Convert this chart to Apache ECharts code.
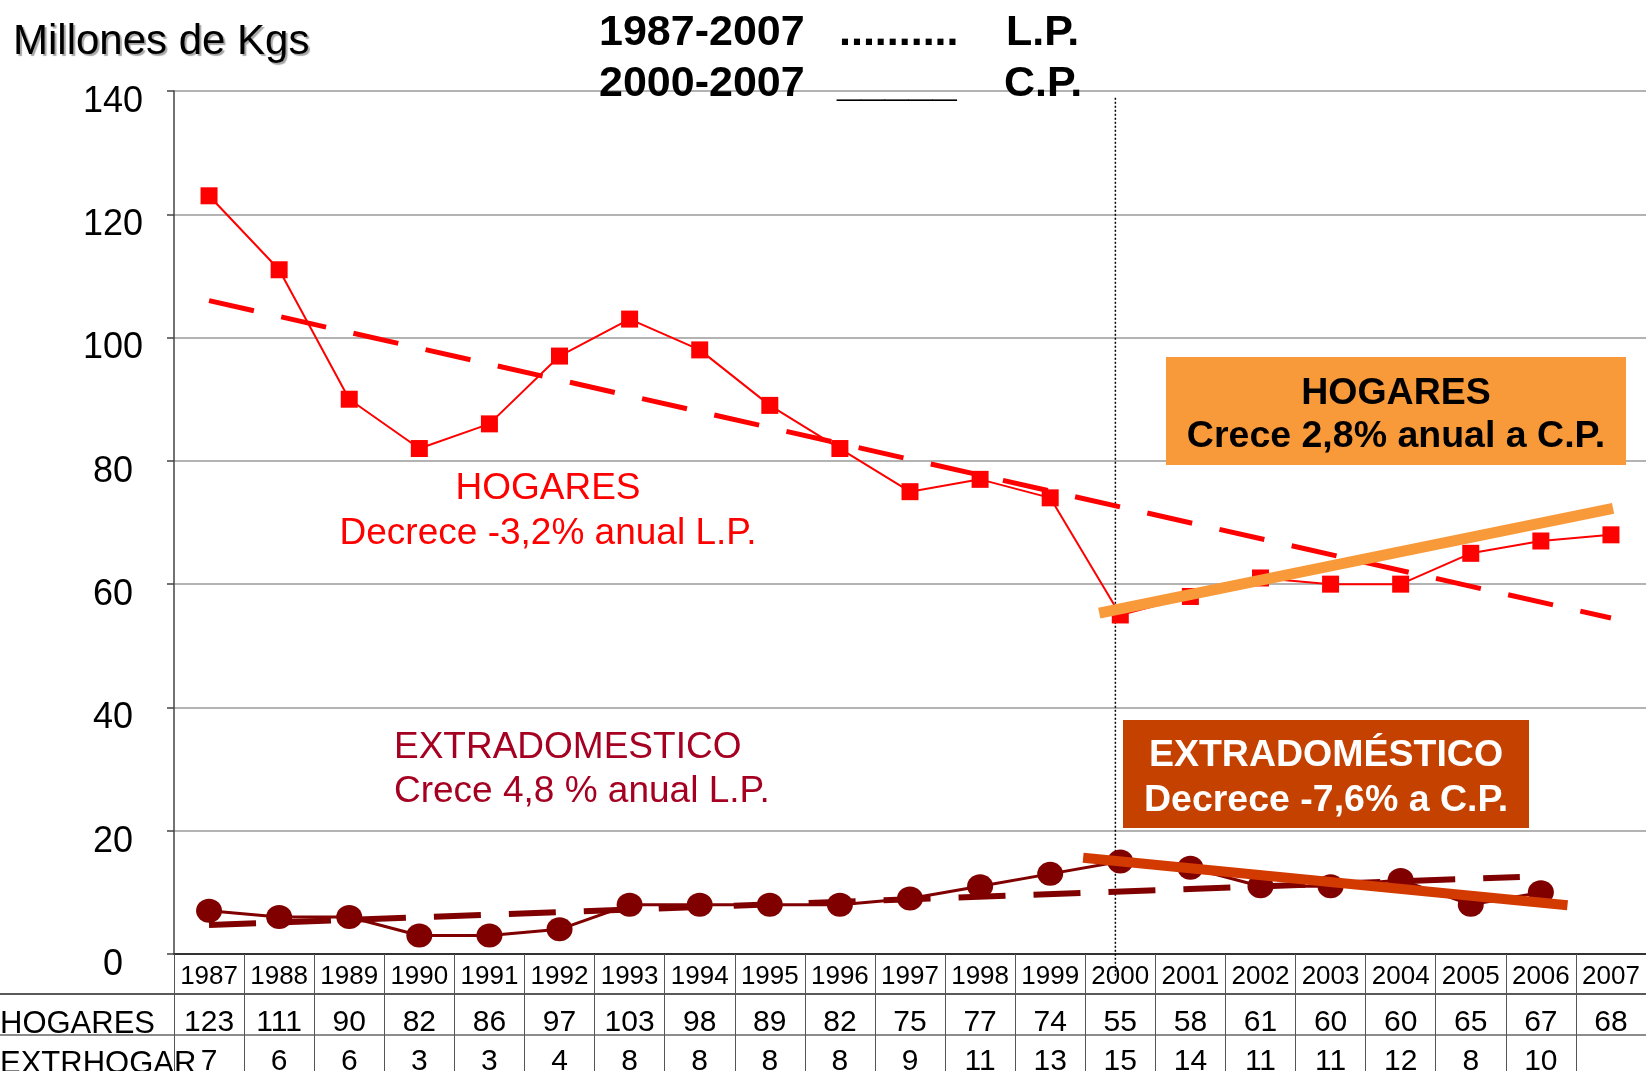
<!DOCTYPE html>
<html>
<head>
<meta charset="utf-8">
<script src="https://cdn.jsdelivr.net/npm/echarts@6/dist/echarts.min.js"></script>
<style>
  html, body { margin: 0; padding: 0; background: #fff; }
  #main { width: 1646px; height: 1071px; }
</style>
</head>
<body>
<div id="main"></div>
<script>
const years = ['1987', '1988', '1989', '1990', '1991', '1992', '1993', '1994', '1995', '1996', '1997',
  '1998', '1999', '2000', '2001', '2002', '2003', '2004', '2005', '2006', '2007']
const hogares = [123, 111, 90, 82, 86, 97, 103, 98, 89, 82, 75, 77, 74, 55, 58, 61, 60, 60, 65, 67, 68]
const extra = [7, 6, 6, 3, 3, 4, 8, 8, 8, 8, 9, 11, 13, 15, 14, 11, 11, 12, 8, 10, null]
const yTicks = [0, 20, 40, 60, 80, 100, 120, 140]

// trend lines, [position on the year axis (0 = 1987), value]
const hogaresLP = [[0, 106], [20, 54.5]]
const hogaresCP = [[12.7, 55.3], [20.03, 72.3]]
const extraLP = [[0, 4.7], [18.7, 12.5]]
const extraCP = [[12.47, 15.6], [19.38, 7.9]]
const mark2000 = [[12.93, 138.9], [12.93, -3.7]]

const FONT = '"Liberation Sans", Arial, sans-serif'

const myChart = echarts.init(document.getElementById('main'))

function txt(x, y, text, size, color, opts) {
  opts = opts || {}
  return {
    type: 'text',
    x: x,
    y: y,
    z: 100,
    style: Object.assign({
      text: text,
      font: (opts.bold ? 'bold ' : '') + size + 'px ' + FONT,
      fill: color,
      align: opts.align || 'left',
      verticalAlign: 'middle',
    }, opts.extra || {}),
  }
}

const option = {
  animation: false,
  backgroundColor: '#fff',
  grid: { left: 174, right: 0, top: 91, bottom: 117, containLabel: false, outerBoundsMode: 'none' },
  xAxis: [
    {
      type: 'category',
      data: years,
      position: 'bottom',
      boundaryGap: true,
      axisLine: { onZero: false, lineStyle: { color: '#333', width: 2 } },
      axisTick: { show: true, interval: 0, alignWithLabel: false, length: 117, lineStyle: { color: '#555', width: 1 } },
      axisLabel: { interval: 0, fontSize: 26, fontFamily: FONT, color: '#000', margin: 10 },
    },
    {
      type: 'category',
      data: hogares.map(String),
      position: 'bottom',
      offset: 46,
      axisLine: { show: false, onZero: false },
      axisTick: { show: false },
      axisLabel: { interval: 0, fontSize: 30, fontFamily: FONT, color: '#000', margin: 8 },
    },
    {
      type: 'category',
      data: extra.map((v) => (v == null ? '' : String(v))),
      position: 'bottom',
      offset: 85,
      axisLine: { show: false, onZero: false },
      axisTick: { show: false },
      axisLabel: { interval: 0, fontSize: 30, fontFamily: FONT, color: '#000', margin: 8 },
    },
    {
      type: 'value',
      position: 'top',
      min: -0.5,
      max: 20.5,
      show: false,
      axisLine: { onZero: false },
    },
  ],
  yAxis: {
    type: 'value',
    min: yTicks[0],
    max: yTicks[yTicks.length - 1],
    interval: 20,
    axisLine: { show: true, onZero: false, lineStyle: { color: '#444', width: 1.5 } },
    axisTick: { show: true, length: 7, lineStyle: { color: '#444', width: 1.5 } },
    axisLabel: {
      fontSize: 36, fontFamily: FONT, color: '#000',
      align: 'center', margin: 61, verticalAlign: 'top', lineHeight: 22,
    },
    splitLine: { lineStyle: { color: '#9a9a9a', width: 1.5 } },
  },
  series: [
    {
      name: 'HOGARES',
      type: 'line',
      data: hogares,
      symbol: 'rect',
      symbolSize: 17,
      itemStyle: { color: '#ff0000' },
      lineStyle: { color: '#ff0000', width: 2 },
      z: 3,
    },
    {
      name: 'EXTRHOGAR',
      type: 'line',
      data: extra,
      symbol: 'circle',
      symbolSize: [26, 24],
      itemStyle: { color: '#800000' },
      lineStyle: { color: '#800000', width: 3 },
      z: 3,
    },
    {
      name: 'HOGARES L.P.',
      type: 'line',
      xAxisIndex: 3,
      data: hogaresLP,
      showSymbol: false,
      lineStyle: { color: '#ff0000', width: 5, type: [46, 28] },
      z: 4,
    },
    {
      name: 'EXTRHOGAR L.P.',
      type: 'line',
      xAxisIndex: 3,
      data: extraLP,
      showSymbol: false,
      lineStyle: { color: '#800000', width: 6, type: [47, 28] },
      z: 4,
    },
    {
      name: 'HOGARES C.P.',
      type: 'line',
      xAxisIndex: 3,
      data: hogaresCP,
      showSymbol: false,
      lineStyle: { color: '#f99a3a', width: 11 },
      z: 5,
    },
    {
      name: 'EXTRHOGAR C.P.',
      type: 'line',
      xAxisIndex: 3,
      data: extraCP,
      showSymbol: false,
      lineStyle: { color: '#d23a00', width: 10 },
      z: 5,
    },
    {
      name: '2000',
      type: 'line',
      xAxisIndex: 3,
      data: mark2000,
      showSymbol: false,
      clip: false,
      lineStyle: { color: '#000', width: 1.5, type: [2, 2] },
      z: 2,
    },
  ],
  graphic: [
    // table rows
    { type: 'line', shape: { x1: 0, y1: 994, x2: 1646, y2: 994 }, style: { stroke: '#222', lineWidth: 1.5 } },
    { type: 'line', shape: { x1: 0, y1: 1035, x2: 1646, y2: 1035 }, style: { stroke: '#666', lineWidth: 1.5 } },
    txt(0, 1024, 'HOGARES', 31, '#000'),
    txt(0, 1064, 'EXTRHOGAR', 31, '#000'),

    // titles
    txt(13, 42, 'Millones de Kgs', 42, '#000', {
      extra: { textShadowColor: 'rgba(0,0,0,0.35)', textShadowOffsetX: 2, textShadowOffsetY: 2, textShadowBlur: 1 },
    }),
    txt(599, 33, '1987-2007', 43, '#000', { bold: true }),
    txt(839, 33, '..........', 43, '#000', { bold: true }),
    txt(1006, 33, 'L.P.', 43, '#000', { bold: true }),
    txt(599, 84, '2000-2007', 43, '#000', { bold: true }),
    txt(837, 84, '_____', 43, '#000', { bold: true }),
    txt(1004, 84, 'C.P.', 43, '#000', { bold: true }),

    // notes in the plot
    txt(548, 489, 'HOGARES', 37, '#ff0000', { align: 'center' }),
    txt(548, 534, 'Decrece -3,2% anual L.P.', 37, '#ff0000', { align: 'center' }),
    txt(394, 748, 'EXTRADOMESTICO', 37, '#a50021'),
    txt(394, 792, 'Crece 4,8 % anual L.P.', 37, '#a50021'),

    // boxes
    { type: 'rect', z: 90, shape: { x: 1166, y: 357, width: 460, height: 108 }, style: { fill: '#f99a3a' } },
    txt(1396, 394, 'HOGARES', 37.5, '#000', { bold: true, align: 'center' }),
    txt(1396, 437, 'Crece 2,8% anual a C.P.', 37.5, '#000', { bold: true, align: 'center' }),
    { type: 'rect', z: 90, shape: { x: 1123, y: 720, width: 406, height: 108 }, style: { fill: '#c54100' } },
    txt(1326, 756, 'EXTRADOMÉSTICO', 37.5, '#fff', { bold: true, align: 'center' }),
    txt(1326, 801, 'Decrece -7,6% a C.P.', 37.5, '#fff', { bold: true, align: 'center' }),
  ],
}

myChart.setOption(option)
</script>
</body>
</html>
